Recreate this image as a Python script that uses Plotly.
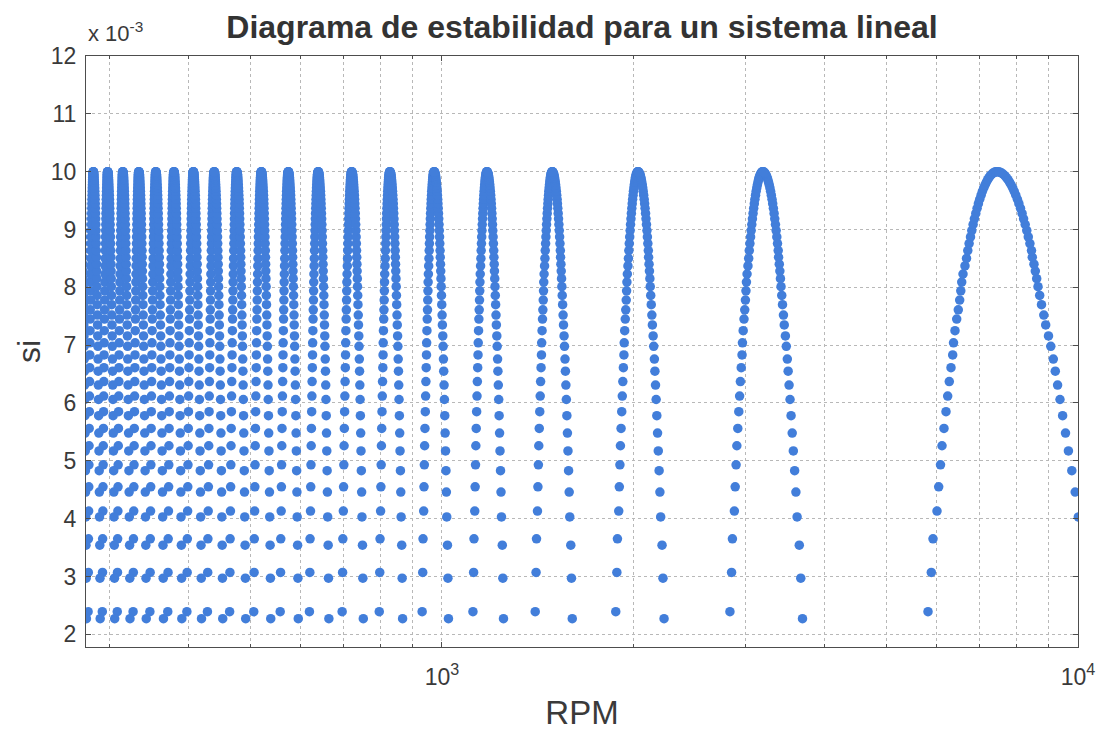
import numpy as np
import plotly.graph_objects as go

# Stability levels (si, in units of 1e-3) on the rising (left) branch of each lobe
si_left_e3 = [2.39, 3.07, 3.65, 4.13, 4.55, 4.93, 5.26, 5.56, 5.85, 6.12,
              6.37, 6.61, 6.83, 7.04, 7.25, 7.45, 7.61, 7.78, 7.94, 8.09,
              8.23, 8.37, 8.50, 8.635, 8.756, 8.872, 8.982, 9.086, 9.185, 9.278,
              9.366, 9.447, 9.523, 9.594, 9.659, 9.718, 9.772, 9.820, 9.862, 9.898,
              9.930, 9.955, 9.975, 9.989, 9.997, 10.0]
# Spindle speed of each left-branch point on the first lobe (N = 0)
rpm_first_lobe_left = [5810, 5880, 5916, 6002, 6039, 6079, 6112, 6156, 6201, 6239,
                       6275, 6314, 6353, 6372, 6406, 6446, 6483, 6516, 6542, 6564,
                       6595, 6642, 6679, 6710, 6742, 6776, 6808, 6840, 6872, 6907,
                       6940, 6973, 7006, 7041, 7074, 7108, 7144, 7178, 7211, 7245,
                       7282, 7317, 7351, 7389, 7421, 7458]
# Chatter frequency (Hz) of each left-branch point
chatter_hz_left = [92.35, 92.37, 92.39, 92.40, 92.42, 92.44, 92.46, 92.47, 92.49, 92.51,
                   92.53, 92.55, 92.56, 92.58, 92.60, 92.62, 92.63, 92.65, 92.67, 92.69,
                   92.71, 92.72, 92.74, 92.76, 92.78, 92.79, 92.81, 92.83, 92.85, 92.86,
                   92.88, 92.90, 92.92, 92.94, 92.95, 92.97, 92.99, 93.01, 93.02, 93.04,
                   93.06, 93.08, 93.10, 93.11, 93.13, 93.15]

# Same quantities for the falling (right) branch
si_right_e3 = [2.27, 2.97, 3.54, 4.03, 4.46, 4.83, 5.17, 5.48, 5.78, 6.06,
               6.31, 6.55, 6.76, 6.98, 7.16, 7.35, 7.52, 7.70, 7.86, 8.01,
               8.15, 8.28, 8.40, 8.52, 8.635, 8.756, 8.872, 8.982, 9.086, 9.185,
               9.278, 9.366, 9.447, 9.523, 9.594, 9.659, 9.718, 9.772, 9.820, 9.862,
               9.898, 9.930, 9.955, 9.975, 9.989, 9.997]
rpm_first_lobe_right = [10558, 10380, 10230, 10012, 9899, 9778, 9659, 9558, 9458, 9369,
                        9288, 9211, 9145, 9062, 8987, 8896, 8835, 8762, 8705, 8652,
                        8611, 8568, 8527, 8475, 8451, 8402, 8353, 8308, 8260, 8212,
                        8168, 8121, 8074, 8030, 7984, 7938, 7895, 7849, 7804, 7761,
                        7717, 7672, 7631, 7586, 7543, 7502]
chatter_hz_right = [94.47, 94.44, 94.41, 94.38, 94.35, 94.33, 94.30, 94.27, 94.24, 94.21,
                    94.18, 94.15, 94.12, 94.09, 94.07, 94.04, 94.01, 93.98, 93.95, 93.92,
                    93.89, 93.86, 93.83, 93.81, 93.78, 93.75, 93.72, 93.69, 93.66, 93.63,
                    93.60, 93.57, 93.55, 93.52, 93.49, 93.46, 93.43, 93.40, 93.37, 93.34,
                    93.31, 93.29, 93.26, 93.23, 93.20, 93.17]

# Lobe numbers N drawn on the diagram
lobe_numbers = list(range(0, 22))

y_tick_values = [2, 3, 4, 5, 6, 7, 8, 9, 10, 11, 12]
x_major_ticks = [1000, 10000]
x_major_labels = ["10<sup>3</sup>", "10<sup>4</sup>"]
x_minor_ticks = [300, 400, 500, 600, 700, 800, 900,
                 2000, 3000, 4000, 5000, 6000, 7000, 8000, 9000]


def lobe_speeds(rpm_first, chatter_hz, n):
    """Spindle speed of lobe n: 1/rpm_n = 1/rpm_0 + n / (60 fc)."""
    rpm_first = np.asarray(rpm_first, dtype=float)
    fc = np.asarray(chatter_hz, dtype=float)
    return 1.0 / (1.0 / rpm_first + n / (60.0 * fc))


xs, ys = [], []
for n in lobe_numbers:
    xs.append(lobe_speeds(rpm_first_lobe_left, chatter_hz_left, n))
    ys.append(np.asarray(si_left_e3) * 1e-3)
    xs.append(lobe_speeds(rpm_first_lobe_right, chatter_hz_right, n))
    ys.append(np.asarray(si_right_e3) * 1e-3)
x_all = np.concatenate(xs)
y_all = np.concatenate(ys)

text_color = "#3a3a3a"
axis_color = "#4d4d4d"
grid_color = "#b8b8b8"
font_family = "Liberation Sans, Arial, sans-serif"

fig = go.Figure()
fig.add_trace(go.Scatter(
    x=x_all, y=y_all, mode="markers",
    marker=dict(size=9.5, color="rgb(66,126,218)", line=dict(width=0)),
    hoverinfo="skip", showlegend=False,
))

fig.update_layout(
    width=1106, height=731,
    margin=dict(l=86, r=28, t=56, b=84),
    paper_bgcolor="white", plot_bgcolor="white",
    font=dict(family=font_family, color=text_color, size=22),
    title=dict(
        text="<b>Diagrama de estabilidad para un sistema lineal</b>",
        x=(86 + 1078) / 2 / 1106, xanchor="center",
        y=1 - 27 / 731, yanchor="middle",
        font=dict(size=32, color="#333333", family=font_family),
    ),
)

fig.update_xaxes(
    type="log",
    automargin=False,
    range=[np.log10(275.6), 4],
    tickmode="array",
    tickvals=x_major_ticks,
    ticktext=x_major_labels,
    tickfont=dict(size=23, color=text_color),
    ticks="inside", ticklen=5, tickcolor=axis_color,
    showline=True, linecolor=axis_color, linewidth=1, mirror="ticks",
    showgrid=True, gridcolor=grid_color, gridwidth=1, griddash="3px,3px",
    minor=dict(
        tickmode="array", tickvals=x_minor_ticks,
        ticks="inside", ticklen=3, tickcolor=axis_color,
        showgrid=True, gridcolor=grid_color, gridwidth=1, griddash="3px,3px",
    ),
    zeroline=False,
    ticklabelstandoff=9,
    title=dict(text="RPM", font=dict(size=33, color=text_color), standoff=18),
)

fig.update_yaxes(
    automargin=False,
    range=[1.78e-3, 12e-3],
    tickmode="array",
    tickvals=[v * 1e-3 for v in y_tick_values],
    ticktext=[str(v) for v in y_tick_values],
    tickfont=dict(size=23, color=text_color),
    ticks="inside", ticklen=5, tickcolor=axis_color,
    showline=True, linecolor=axis_color, linewidth=1, mirror="ticks",
    showgrid=True, gridcolor=grid_color, gridwidth=1, griddash="3px,3px",
    zeroline=False,
    ticklabelstandoff=4,
    title=dict(text="si", font=dict(size=32, color=text_color), standoff=0),
)

# Exponent of the y axis scale
fig.add_annotation(
    x=0, y=1, xref="paper", yref="paper",
    xanchor="left", yanchor="bottom", yshift=8,
    text="x 10<sup>-3</sup>", showarrow=False,
    font=dict(size=22, color=text_color, family=font_family),
)

fig.write_html("out.html")
